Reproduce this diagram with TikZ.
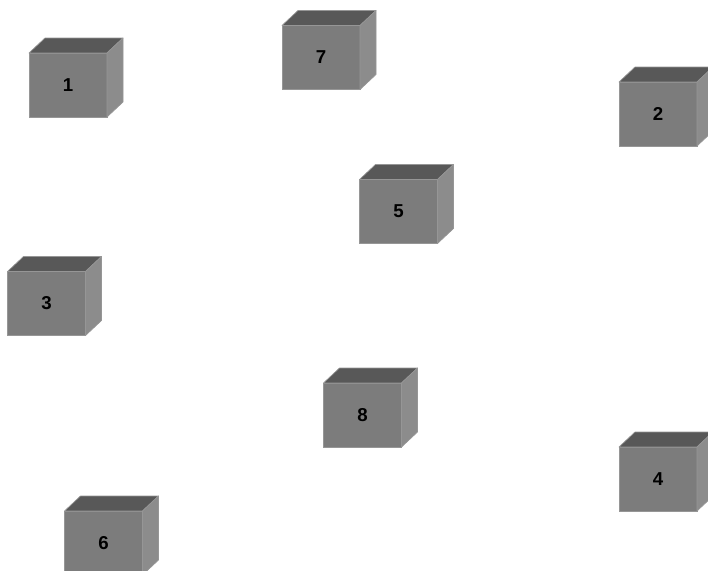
\documentclass[tikz,border=0pt]{standalone}
\usepackage{fontspec}
\setmainfont{Liberation Sans}
\usepackage{xcolor}
\definecolor{frontgray}{RGB}{124,124,124}
\definecolor{topgray}{RGB}{88,88,88}
\definecolor{sidegray}{RGB}{140,140,140}
\definecolor{edgegray}{RGB}{150,150,150}

\begin{document}
\begin{tikzpicture}[
  x=0.75pt,
  y=-0.75pt,
  box/.style={fill=frontgray, draw=edgegray, line width=0.5pt,
    minimum width=58.5pt, minimum height=48pt, inner sep=0pt, outer sep=0pt,
    font=\bfseries\fontsize{14}{16}\selectfont},
  topface/.style={fill=topgray, draw=edgegray, line width=0.5pt, line join=round},
  sideface/.style={fill=sidegray, draw=edgegray, line width=0.5pt, line join=round}
]
\useasboundingbox[fill=white] (0,0) rectangle (708,571);

\node[box] (c1) at (68,85) {1};
\node[box] (c7) at (321,57.5) {7};
\node[box] (c2) at (658,114) {2};
\node[box] (c5) at (398.5,211.5) {5};
\node[box] (c3) at (46.5,303.5) {3};
\node[box] (c8) at (362.5,415) {8};
\node[box] (c4) at (658,479) {4};
\node[box] (c6) at (103.5,543) {6};

% top and side faces
\foreach \n in {c1,c2,c3,c4,c5,c6,c7,c8} {
  \filldraw[topface] (\n.north west) -- ++(12pt,11.25pt)
    -- ([shift={(12pt,11.25pt)}]\n.north east) -- (\n.north east) -- cycle;
  \filldraw[sideface] (\n.north east) -- ++(12pt,11.25pt)
    -- ([shift={(12pt,11.25pt)}]\n.south east) -- (\n.south east) -- cycle;
}
\end{tikzpicture}
\end{document}
